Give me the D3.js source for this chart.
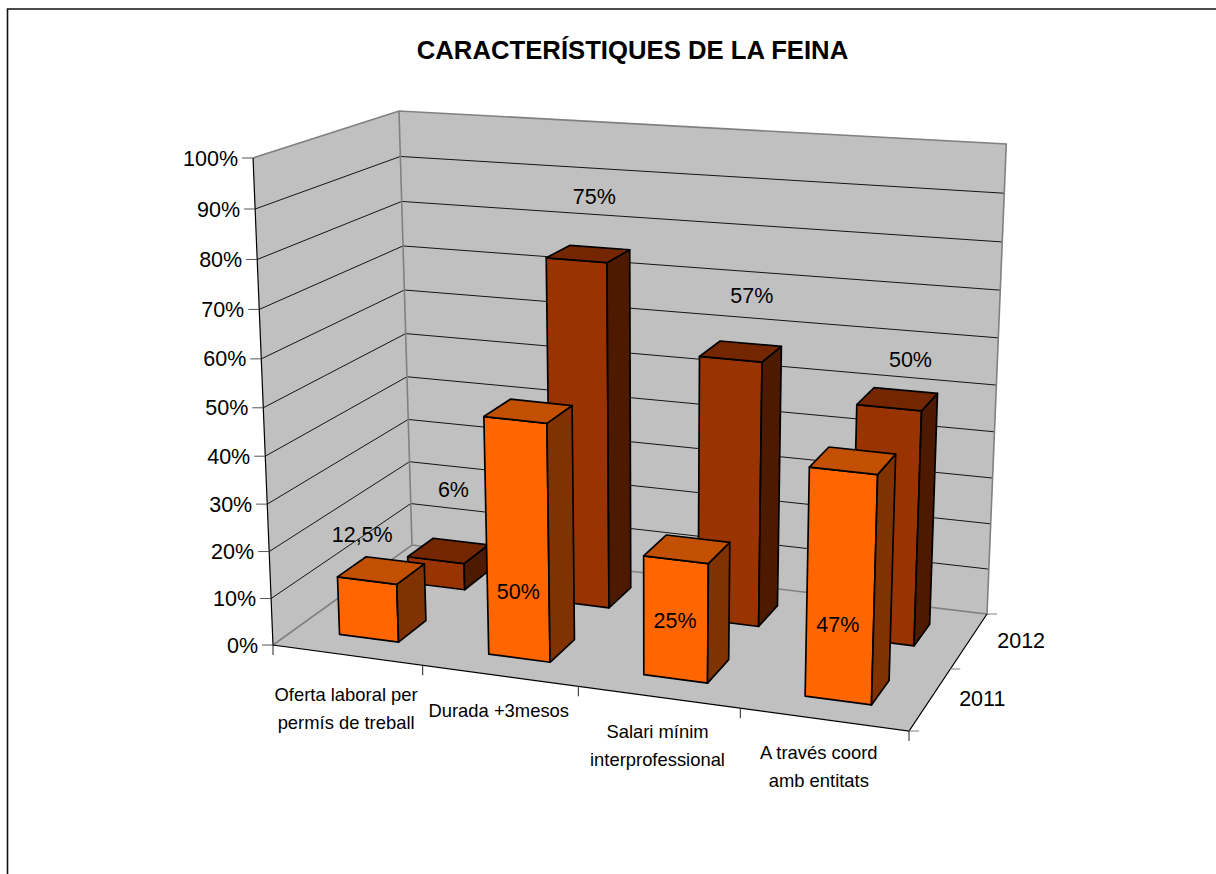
<!DOCTYPE html>
<html><head><meta charset="utf-8">
<script src="https://cdnjs.cloudflare.com/ajax/libs/d3/7.8.5/d3.min.js"></script>
<style>html,body{margin:0;padding:0;background:#fff}svg{display:block}text{font-family:"Liberation Sans",Arial,sans-serif;fill:#000}</style>
</head><body><svg id="c" width="1216" height="874"></svg>
<script>
const categories = [["Oferta laboral per","permís de treball"],["Durada +3mesos"],["Salari mínim","interprofessional"],["A través coord","amb entitats"]];
const seriesNames = ["2011","2012"];
const values2011 = [12.5,50,25,47];
const values2012 = [6,75,57,50];
const labels2011 = ["12,5%","50%","25%","47%"];
const labels2012 = ["6%","75%","57%","50%"];
const yTicks = [0,10,20,30,40,50,60,70,80,90,100];
const title = "CARACTERÍSTIQUES DE LA FEINA";

// plot box: floor corners and 100% wall height at each corner, as seen in the picture
const floorQuad = [[273,645],[909,731],[987,614],[412,545]];
const heightAt = [487,512,470,434];

function homography(q){
  const [[x0,y0],[x1,y1],[x2,y2],[x3,y3]] = q;
  const dx1=x1-x2,dx2=x3-x2,sx=x0-x1+x2-x3,dy1=y1-y2,dy2=y3-y2,sy=y0-y1+y2-y3;
  const d=dx1*dy2-dx2*dy1;
  const g=(sx*dy2-dx2*sy)/d,h=(dx1*sy-sx*dy1)/d;
  const a=x1-x0+g*x1,b=x3-x0+h*x3,c=x0,e=y1-y0+g*y1,f=y3-y0+h*y3;
  return (u,v)=>{const w=g*u+h*v+1;return [(a*u+b*v+c)/w,(e*u+f*v+y0)/w];};
}
const Hf=homography(floorQuad);
const yS=d3.scaleLinear().domain([0,100]).range([0,1]);
const xS=d3.scaleBand().domain(d3.range(categories.length)).range([0,1]).paddingInner(0.6).paddingOuter(0.3);
const xTick=d3.scaleLinear().domain([0,categories.length]).range([0,1]);
const zS=d3.scaleBand().domain(d3.range(seriesNames.length)).range([0,1]).paddingInner(0.6).paddingOuter(0.3);
const zTick=d3.scaleLinear().domain([0,seriesNames.length]).range([0,1]);
const lean=d3.scaleLinear().domain([273,412,987]).range([-0.041,-0.03,0.041]);
const foreshorten=0.053;
function P(u,v,val){
  const a=Hf(u,v),s=yS(val),t=s/(1+foreshorten*(1-s));
  const H=heightAt[0]*(1-u)*(1-v)+heightAt[1]*u*(1-v)+heightAt[2]*u*v+heightAt[3]*(1-u)*v;
  return [a[0]+lean(a[0])*H*t,a[1]-H*t];
}
const line=d3.line().curve(d3.curveLinearClosed);
const svg=d3.select("#c");

// outer border
svg.append("path").attr("d","M7.5,874V9H1216").attr("fill","none").attr("stroke","#111").attr("stroke-width",1.6);

svg.append("text").attr("x",632.5).attr("y",59).attr("text-anchor","middle").attr("font-weight","bold").attr("font-size",25.7).text(title);

const gray="#c0c0c0",edge="#808080";
const wall=svg.append("g");
// left wall, back wall, floor
wall.append("path").attr("d",line([P(0,0,0),P(0,1,0),P(0,1,100),P(0,0,100)])).attr("fill",gray);
wall.append("path").attr("d",line([P(0,1,0),P(1,1,0),P(1,1,100),P(0,1,100)])).attr("fill",gray);
wall.append("path").attr("d",line([P(0,0,0),P(1,0,0),P(1,1,0),P(0,1,0)])).attr("fill",gray);
// gridlines
yTicks.filter(t=>t>0&&t<100).forEach(t=>{
  wall.append("path").attr("d",d3.line()([P(0,0,t),P(0,1,t),P(1,1,t)])).attr("fill","none").attr("stroke","#000").attr("stroke-width",0.9);
});
// grey wall edges
const ge=[[P(0,0,100),P(0,1,100),P(1,1,100),P(1,1,0),P(0,1,0),P(0,0,0)],[P(0,1,0),P(0,1,100)]];
ge.forEach(l=>wall.append("path").attr("d",d3.line()(l)).attr("fill","none").attr("stroke",edge).attr("stroke-width",1.6));
// black axis lines
const ax=[[P(0,0,100),P(0,0,0),P(1,0,0),P(1,1,0)]];
ax.forEach(l=>wall.append("path").attr("d",d3.line()(l)).attr("fill","none").attr("stroke","#000").attr("stroke-width",1.2));

// y axis
yTicks.forEach(t=>{
  const p=P(0,0,t);
  wall.append("line").attr("x1",p[0]-11).attr("x2",p[0]).attr("y1",p[1]).attr("y2",p[1]).attr("stroke","#555").attr("stroke-width",1);
  svg.append("text").attr("x",p[0]-15).attr("y",p[1]+7.5).attr("text-anchor","end").attr("font-size",21.5).text(t+"%");
});
// category ticks
d3.range(categories.length+1).forEach(i=>{
  const p=P(xTick(i),0,0);
  wall.append("line").attr("x1",p[0]).attr("x2",p[0]).attr("y1",p[1]).attr("y2",p[1]+10).attr("stroke","#222").attr("stroke-width",1);
});
// depth ticks
d3.range(seriesNames.length+1).forEach(i=>{
  const p=P(1,zTick(i),0);
  wall.append("line").attr("x1",p[0]).attr("x2",p[0]+10).attr("y1",p[1]).attr("y2",p[1]).attr("stroke",edge).attr("stroke-width",1);
});
const catLabelNudge=[[-1,46],[-1,41],[-1,41],[-5,40]];
categories.forEach((lines,i)=>{
  const p=P(xTick(i+0.5),0,0);
  const t=svg.append("text").attr("text-anchor","middle").attr("font-size",18.4);
  lines.forEach((s,j)=>t.append("tspan").attr("x",p[0]+catLabelNudge[i][0]).attr("y",p[1]+catLabelNudge[i][1]+j*28).text(s));
});
seriesNames.forEach((s,i)=>{
  const p=P(1,zTick(i+0.5),0);
  svg.append("text").attr("x",p[0]+52).attr("y",p[1]+7).attr("text-anchor","middle").attr("font-size",21.5).text(s);
});

const palette=[{f:"#ff6600",t:"#c25000",s:"#803300"},{f:"#993300",t:"#732600",s:"#4d1a00"}];
const allVals=[values2011,values2012],allLabs=[labels2011,labels2012];
const bars=svg.append("g").attr("stroke","#000").attr("stroke-width",1.7).attr("stroke-linejoin","round");
[1,0].forEach(si=>{
  allVals[si].forEach((val,ci)=>{
    const u0=xS(ci),u1=u0+xS.bandwidth(),v0=zS(si),v1=v0+zS.bandwidth(),c=palette[si];
    bars.append("path").attr("fill",c.f).attr("d",line([P(u0,v0,0),P(u1,v0,0),P(u1,v0,val),P(u0,v0,val)]));
    bars.append("path").attr("fill",c.s).attr("d",line([P(u1,v0,0),P(u1,v1,0),P(u1,v1,val),P(u1,v0,val)]));
    bars.append("path").attr("fill",c.t).attr("d",line([P(u0,v0,val),P(u1,v0,val),P(u1,v1,val),P(u0,v1,val)]));
  });
});
const labelNudge=[[[-19,-36],[-10,180],[-12,71],[-15,164]],[[5,-61],[6,-57],[11,-56],[13,-40]]];
[0,1].forEach(si=>{
  allLabs[si].forEach((s,ci)=>{
    const u=xS(ci)+xS.bandwidth()/2,v=zS(si)+zS.bandwidth()/2,p=P(u,v,allVals[si][ci]);
    svg.append("text").attr("x",p[0]+labelNudge[si][ci][0]).attr("y",p[1]+labelNudge[si][ci][1]+7.5).attr("text-anchor","middle").attr("font-size",21.5).text(s);
  });
});
</script></body></html>
